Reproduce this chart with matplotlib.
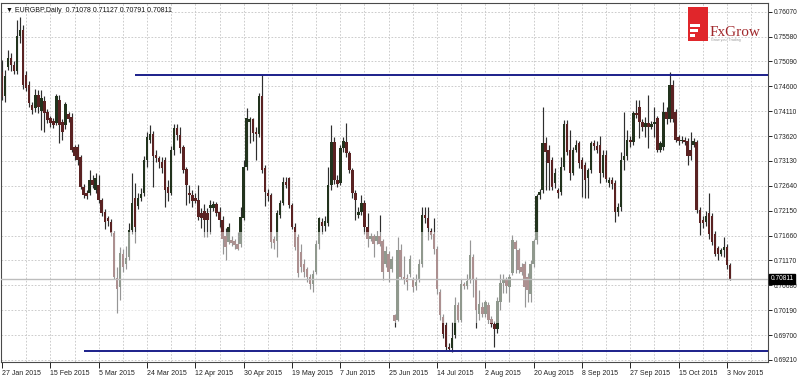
import matplotlib
matplotlib.use("Agg")
import matplotlib.pyplot as plt
from matplotlib.patches import Rectangle

# EURGBP daily candles, 27 Jan 2015 .. 4 Nov 2015
opens = [0.7488, 0.7440, 0.7498, 0.7516, 0.7502, 0.7490, 0.7560, 0.7571, 0.7483, 0.7463,
         0.7423, 0.7417, 0.7443, 0.7411, 0.7431, 0.7410, 0.7397, 0.7392, 0.7388, 0.7433,
         0.7390, 0.7383, 0.7405, 0.7400, 0.7341, 0.7340, 0.7320, 0.7262, 0.7250, 0.7250,
         0.7275, 0.7256, 0.7266, 0.7236, 0.7213, 0.7200, 0.7193, 0.7171, 0.7082, 0.7065,
         0.7130, 0.7110, 0.7124, 0.7177, 0.7240, 0.7225, 0.7240, 0.7250, 0.7315, 0.7355,
         0.7367, 0.7325, 0.7318, 0.7310, 0.7315, 0.7262, 0.7250, 0.7335, 0.7377, 0.7365,
         0.7340, 0.7298, 0.7250, 0.7245, 0.7240, 0.7236, 0.7210, 0.7214, 0.7210, 0.7220,
         0.7220, 0.7229, 0.7213, 0.7197, 0.7165, 0.7154, 0.7157, 0.7155, 0.7150, 0.7150,
         0.7200, 0.7302, 0.7390, 0.7395, 0.7370, 0.7366, 0.7440, 0.7300, 0.7250, 0.7246,
         0.7160, 0.7155, 0.7207, 0.7230, 0.7272, 0.7279, 0.7226, 0.7183, 0.7163, 0.7134,
         0.7110, 0.7100, 0.7085, 0.7070, 0.7095, 0.7150, 0.7192, 0.7185, 0.7190, 0.7266,
         0.7350, 0.7275, 0.7270, 0.7338, 0.7350, 0.7328, 0.7295, 0.7250, 0.7207, 0.7213,
         0.7230, 0.7183, 0.7160, 0.7166, 0.7155, 0.7166, 0.7155, 0.7110, 0.7130, 0.7100,
         0.7010, 0.7000, 0.7137, 0.7085, 0.7082, 0.7090, 0.7080, 0.7066, 0.7080, 0.7110,
         0.7206, 0.7200, 0.7175, 0.7170, 0.7140, 0.7055, 0.7006, 0.6990, 0.6947, 0.6945,
         0.6970, 0.7030, 0.7000, 0.7070, 0.7066, 0.7078, 0.7124, 0.7078, 0.7012, 0.7025,
         0.7012, 0.7030, 0.7002, 0.6992, 0.6982, 0.7035, 0.7072, 0.7078, 0.7065, 0.7092,
         0.7154, 0.7137, 0.7105, 0.7110, 0.7085, 0.7050, 0.7110, 0.7157, 0.7245, 0.7255,
         0.7348, 0.7335, 0.7315, 0.7270, 0.7255, 0.7252, 0.7302, 0.7386, 0.7335, 0.7290,
         0.7335, 0.7348, 0.7315, 0.7305, 0.7280, 0.7295, 0.7348, 0.7343, 0.7345, 0.7290,
         0.7325, 0.7270, 0.7275, 0.7270, 0.7213, 0.7222, 0.7315, 0.7322, 0.7355, 0.7350,
         0.7407, 0.7420, 0.7390, 0.7380, 0.7388, 0.7380, 0.7385, 0.7397, 0.7335, 0.7340,
         0.7410, 0.7395, 0.7463, 0.7410, 0.7360, 0.7352, 0.7355, 0.7352, 0.7335, 0.7345,
         0.7350, 0.7216, 0.7196, 0.7193, 0.7210, 0.7205, 0.7170, 0.7141, 0.7130, 0.7137,
         0.7143, 0.71078]
highs = [0.7512, 0.7492, 0.7532, 0.7525, 0.7510, 0.7590, 0.7596, 0.7580, 0.7490, 0.7470,
         0.7430, 0.7455, 0.7453, 0.7453, 0.7440, 0.7415, 0.7402, 0.7398, 0.7445, 0.7443,
         0.7395, 0.7430, 0.7410, 0.7407, 0.7345, 0.7346, 0.7325, 0.7268, 0.7255, 0.7295,
         0.7285, 0.7290, 0.7285, 0.7240, 0.7218, 0.7205, 0.7198, 0.7175, 0.7104, 0.7144,
         0.7140, 0.7145, 0.7190, 0.7290, 0.7270, 0.7250, 0.7260, 0.7322, 0.7370, 0.7383,
         0.7372, 0.7335, 0.7322, 0.7320, 0.7321, 0.7275, 0.7342, 0.7385, 0.7385, 0.7380,
         0.7345, 0.7302, 0.7265, 0.7255, 0.7250, 0.7266, 0.7220, 0.7229, 0.7220, 0.7236,
         0.7235, 0.7232, 0.7222, 0.7205, 0.7180, 0.7190, 0.7165, 0.7160, 0.7174, 0.7223,
         0.7315, 0.7417, 0.7400, 0.7397, 0.7380, 0.7446, 0.7482, 0.7305, 0.7258, 0.7249,
         0.7165, 0.7216, 0.7236, 0.7282, 0.7282, 0.7282, 0.7230, 0.7190, 0.7170, 0.7150,
         0.7120, 0.7105, 0.7090, 0.7098, 0.7157, 0.7203, 0.7200, 0.7205, 0.7302, 0.7384,
         0.7360, 0.7285, 0.7345, 0.7360, 0.7387, 0.7333, 0.7300, 0.7255, 0.7222, 0.7246,
         0.7236, 0.7210, 0.7172, 0.7170, 0.7175, 0.7207, 0.7160, 0.7145, 0.7135, 0.7125,
         0.7012, 0.7164, 0.7150, 0.7125, 0.7090, 0.7128, 0.7085, 0.7090, 0.7120, 0.7223,
         0.7223, 0.7223, 0.7180, 0.7200, 0.7145, 0.7060, 0.7012, 0.6995, 0.6955, 0.6995,
         0.7045, 0.7035, 0.7080, 0.7075, 0.7090, 0.7157, 0.7130, 0.7085, 0.7058, 0.7035,
         0.7040, 0.7035, 0.7008, 0.6998, 0.7045, 0.7091, 0.7091, 0.7085, 0.7090, 0.7167,
         0.7157, 0.7142, 0.7112, 0.7115, 0.7092, 0.7118, 0.7160, 0.7248, 0.7258, 0.7420,
         0.7361, 0.7345, 0.7320, 0.7300, 0.7260, 0.7321, 0.7393, 0.7393, 0.7374, 0.7340,
         0.7355, 0.7352, 0.7320, 0.7310, 0.7300, 0.7352, 0.7355, 0.7352, 0.7362, 0.7335,
         0.7335, 0.7282, 0.7282, 0.7275, 0.7230, 0.7330, 0.7410, 0.7374, 0.7362, 0.7412,
         0.7433, 0.7433, 0.7395, 0.7400, 0.7443, 0.7392, 0.7420, 0.7402, 0.7352, 0.7430,
         0.7420, 0.7489, 0.7473, 0.7415, 0.7365, 0.7362, 0.7360, 0.7358, 0.7370, 0.7358,
         0.7355, 0.7222, 0.7205, 0.7215, 0.7249, 0.7210, 0.7175, 0.7145, 0.7142, 0.7164,
         0.7150, 0.71127]
lows = [0.7433, 0.7430, 0.7492, 0.7490, 0.7485, 0.7485, 0.7545, 0.7455, 0.7450, 0.7420,
        0.7405, 0.7410, 0.7407, 0.7374, 0.7370, 0.7388, 0.7380, 0.7378, 0.7383, 0.7348,
        0.7354, 0.7375, 0.7390, 0.7330, 0.7315, 0.7305, 0.7258, 0.7240, 0.7238, 0.7245,
        0.7260, 0.7250, 0.7230, 0.7205, 0.7178, 0.7185, 0.7165, 0.7080, 0.7013, 0.7040,
        0.7095, 0.7100, 0.7117, 0.7170, 0.7152, 0.7218, 0.7235, 0.7243, 0.7302, 0.7348,
        0.7262, 0.7310, 0.7300, 0.7290, 0.7223, 0.7235, 0.7245, 0.7325, 0.7355, 0.7328,
        0.7290, 0.7226, 0.7230, 0.7222, 0.7230, 0.7197, 0.7180, 0.7164, 0.7164, 0.7170,
        0.7215, 0.7205, 0.7183, 0.7130, 0.7118, 0.7150, 0.7145, 0.7140, 0.7137, 0.7144,
        0.7197, 0.7295, 0.7348, 0.7352, 0.7315, 0.7361, 0.7290, 0.7225, 0.7235, 0.7141,
        0.7140, 0.7124, 0.7200, 0.7226, 0.7260, 0.7220, 0.7178, 0.7138, 0.7085, 0.7095,
        0.7085, 0.7075, 0.7060, 0.7055, 0.7090, 0.7140, 0.7170, 0.7175, 0.7185, 0.7255,
        0.7268, 0.7262, 0.7265, 0.7330, 0.7320, 0.7290, 0.7240, 0.7197, 0.7200, 0.7207,
        0.7170, 0.7144, 0.7155, 0.7124, 0.7150, 0.7145, 0.7078, 0.7105, 0.7075, 0.7095,
        0.6986, 0.6997, 0.7080, 0.7070, 0.7058, 0.7085, 0.7055, 0.7058, 0.7075, 0.7104,
        0.7190, 0.7157, 0.7160, 0.7130, 0.7050, 0.7000, 0.6965, 0.6940, 0.6938, 0.6937,
        0.6965, 0.6995, 0.6995, 0.7060, 0.7060, 0.7072, 0.7045, 0.6983, 0.6999, 0.7005,
        0.7005, 0.6993, 0.6985, 0.6947, 0.6975, 0.7020, 0.7052, 0.7052, 0.7035, 0.7088,
        0.7092, 0.7092, 0.7088, 0.7025, 0.7035, 0.7035, 0.7105, 0.7150, 0.7238, 0.7250,
        0.7255, 0.7255, 0.7255, 0.7260, 0.7240, 0.7245, 0.7295, 0.7325, 0.7275, 0.7285,
        0.7330, 0.7300, 0.7242, 0.7240, 0.7240, 0.7290, 0.7335, 0.7328, 0.7270, 0.7282,
        0.7272, 0.7262, 0.7258, 0.7193, 0.7205, 0.7215, 0.7295, 0.7315, 0.7340, 0.7345,
        0.7398, 0.7358, 0.7372, 0.7360, 0.7338, 0.7375, 0.7360, 0.7330, 0.7330, 0.7335,
        0.7385, 0.7390, 0.7390, 0.7350, 0.7345, 0.7348, 0.7345, 0.7305, 0.7315, 0.7340,
        0.7210, 0.7167, 0.7180, 0.7185, 0.7160, 0.7148, 0.7125, 0.7118, 0.7125, 0.7124,
        0.7100, 0.70791]
closes = [0.7439, 0.7480, 0.7516, 0.7502, 0.7490, 0.7560, 0.7570, 0.7463, 0.7457, 0.7427,
          0.7413, 0.7443, 0.7420, 0.7437, 0.7407, 0.7394, 0.7388, 0.7383, 0.7440, 0.7383,
          0.7371, 0.7425, 0.7395, 0.7335, 0.7322, 0.7315, 0.7262, 0.7246, 0.7243, 0.7275,
          0.7266, 0.7280, 0.7236, 0.7210, 0.7193, 0.7194, 0.7171, 0.7085, 0.7060, 0.7132,
          0.7105, 0.7122, 0.7177, 0.7230, 0.7183, 0.7240, 0.7248, 0.7315, 0.7360, 0.7367,
          0.7322, 0.7318, 0.7310, 0.7300, 0.7256, 0.7250, 0.7335, 0.7377, 0.7365, 0.7338,
          0.7295, 0.7265, 0.7245, 0.7235, 0.7235, 0.7203, 0.7200, 0.7197, 0.7197, 0.7226,
          0.7229, 0.7210, 0.7197, 0.7160, 0.7144, 0.7183, 0.7151, 0.7147, 0.7140, 0.7203,
          0.7302, 0.7397, 0.7395, 0.7368, 0.7366, 0.7440, 0.7295, 0.7252, 0.7243, 0.7154,
          0.7152, 0.7210, 0.7230, 0.7272, 0.7265, 0.7226, 0.7183, 0.7144, 0.7092, 0.7105,
          0.7095, 0.7085, 0.7070, 0.7090, 0.7150, 0.7200, 0.7185, 0.7195, 0.7266, 0.7350,
          0.7275, 0.7268, 0.7338, 0.7352, 0.7328, 0.7295, 0.7250, 0.7236, 0.7213, 0.7230,
          0.7183, 0.7160, 0.7166, 0.7150, 0.7166, 0.7150, 0.7095, 0.7135, 0.7095, 0.7120,
          0.6998, 0.7137, 0.7085, 0.7080, 0.7075, 0.7120, 0.7064, 0.7075, 0.7110, 0.7206,
          0.7200, 0.7180, 0.7168, 0.7140, 0.7060, 0.7010, 0.6973, 0.6947, 0.6943, 0.6965,
          0.7030, 0.7000, 0.7070, 0.7066, 0.7076, 0.7127, 0.7080, 0.7020, 0.7032, 0.7012,
          0.7035, 0.7000, 0.6992, 0.6982, 0.7038, 0.7072, 0.7078, 0.7067, 0.7085, 0.7157,
          0.7140, 0.7098, 0.7095, 0.7065, 0.7059, 0.7110, 0.7155, 0.7243, 0.7252, 0.7348,
          0.7331, 0.7308, 0.7262, 0.7290, 0.7250, 0.7302, 0.7385, 0.7331, 0.7290, 0.7335,
          0.7345, 0.7308, 0.7298, 0.7275, 0.7295, 0.7348, 0.7343, 0.7335, 0.7290, 0.7325,
          0.7278, 0.7275, 0.7268, 0.7213, 0.7222, 0.7315, 0.7322, 0.7355, 0.7350, 0.7407,
          0.7403, 0.7390, 0.7380, 0.7388, 0.7380, 0.7385, 0.7390, 0.7335, 0.7348, 0.7410,
          0.7395, 0.7463, 0.7395, 0.7355, 0.7352, 0.7355, 0.7350, 0.7322, 0.7322, 0.7352,
          0.7216, 0.7190, 0.7190, 0.7205, 0.7170, 0.7154, 0.7130, 0.7130, 0.7137, 0.7143,
          0.7108, 0.70811]

date_labels = ["27 Jan 2015", "15 Feb 2015", "5 Mar 2015", "24 Mar 2015", "12 Apr 2015",
               "30 Apr 2015", "19 May 2015", "7 Jun 2015", "25 Jun 2015", "14 Jul 2015",
               "2 Aug 2015", "20 Aug 2015", "8 Sep 2015", "27 Sep 2015", "15 Oct 2015",
               "3 Nov 2015"]
price_ticks = [0.76070, 0.75580, 0.75090, 0.74600, 0.74110, 0.73620, 0.73130, 0.72640,
               0.72150, 0.71660, 0.71170, 0.70680, 0.70190, 0.69700, 0.69210]

# horizontal levels drawn by hand on the chart
resistance = 0.74823
resistance_from = 44
support = 0.69387
support_from = 27
last_price = 0.70811
header = "\u25bc EURGBP,Daily  0.71078 0.71127 0.70791 0.70811"

plt.rcParams["font.family"] = ["Liberation Sans", "DejaVu Sans"]

fig = plt.figure(figsize=(8, 3.77), dpi=100)
ax = fig.add_axes([1 / 800, 15 / 377, 767 / 800, 359 / 377])
xmax = 253.6
ax.set_xlim(-0.35, xmax)
ax.set_ylim(0.69170, 0.76241)

# grid
grid_col = "#c4c4c4"
for k in range(8, int(xmax) + 1, 8):
    ax.axvline(k, color=grid_col, lw=0.6, ls=(0, (2, 2)), zorder=0.5)
for p in price_ticks:
    ax.axhline(p, color=grid_col, lw=0.6, ls=(0, (2, 2)), zorder=0.5)

# candles
bull_col = "#22331d"
bear_col = "#5a2222"
xs = list(range(len(closes)))
cols = [bull_col if c >= o else bear_col for o, c in zip(opens, closes)]
bottoms = [min(o, c) for o, c in zip(opens, closes)]
heights = [max(abs(c - o), 0.00012) for o, c in zip(opens, closes)]
ax.vlines(xs, lows, highs, colors="#2e2e2e", lw=0.85, zorder=2)
ax.bar(xs, heights, bottom=bottoms, width=0.82, color=cols, lw=0, zorder=2.1)

# faded area (watermark over the middle of the chart)
ax.add_patch(Rectangle((33, 0.6993), 145, 0.0180, facecolor="white", alpha=0.5,
                       lw=0, zorder=3))

# current price line
ax.axhline(last_price, color="#bdbdbd", lw=1.0, zorder=3.5)

# support / resistance lines
line_col = "#1b1f8a"
ax.hlines(resistance, resistance_from, xmax, color=line_col, lw=1.4, zorder=4)
ax.hlines(support, support_from, xmax, color=line_col, lw=1.4, zorder=4)

# axes
for s in ax.spines.values():
    s.set_color("#4a4a4a")
    s.set_linewidth(0.8)
ax.yaxis.tick_right()
ax.set_yticks(price_ticks)
ax.set_yticklabels([f"{p:.5f}" for p in price_ticks])
ax.set_xticks(range(0, 16 * len(date_labels), 16))
ax.set_xticklabels(date_labels)
ax.tick_params(axis="y", length=3, width=0.7, pad=1.2, labelsize=4.8, colors="#222222")
ax.tick_params(axis="x", length=4, width=0.7, pad=1.5, labelsize=5.0, colors="#222222")
for lab in ax.get_xticklabels():
    lab.set_horizontalalignment("left")

ax.text(1.003, last_price, "0.70811", transform=ax.get_yaxis_transform(), fontsize=4.8,
        color="white", va="center", ha="left", zorder=10, clip_on=False,
        bbox=dict(boxstyle="square,pad=0.2", facecolor="black", edgecolor="black"))

ax.text(0.006, 0.988, header, transform=ax.transAxes, fontsize=5.0, va="top", ha="left",
        color="#111111", zorder=10)

# FxGrow logo
fig.patches.append(Rectangle((688 / 800, 1 - 41 / 377), 20 / 800, 34 / 377,
                             transform=fig.transFigure, facecolor="#e0262b", lw=0,
                             zorder=11))
for y0, w in [(24, 10), (29, 8), (34, 5)]:
    fig.patches.append(Rectangle((690 / 800, 1 - (y0 + 2.5) / 377), w / 800, 2.5 / 377,
                                 transform=fig.transFigure, facecolor="white", lw=0,
                                 zorder=12))
fig.text(710 / 800, 1 - 36 / 377, "FxGrow", fontsize=11, color="#a1282c",
         family=["Liberation Serif", "DejaVu Serif"], ha="left", va="baseline", zorder=12)
fig.text(711 / 800, 1 - 41 / 377, "Grow your Trading", fontsize=2.6, color="#999999",
         ha="left", va="baseline", zorder=12)

fig.savefig("out.png", dpi=100)
